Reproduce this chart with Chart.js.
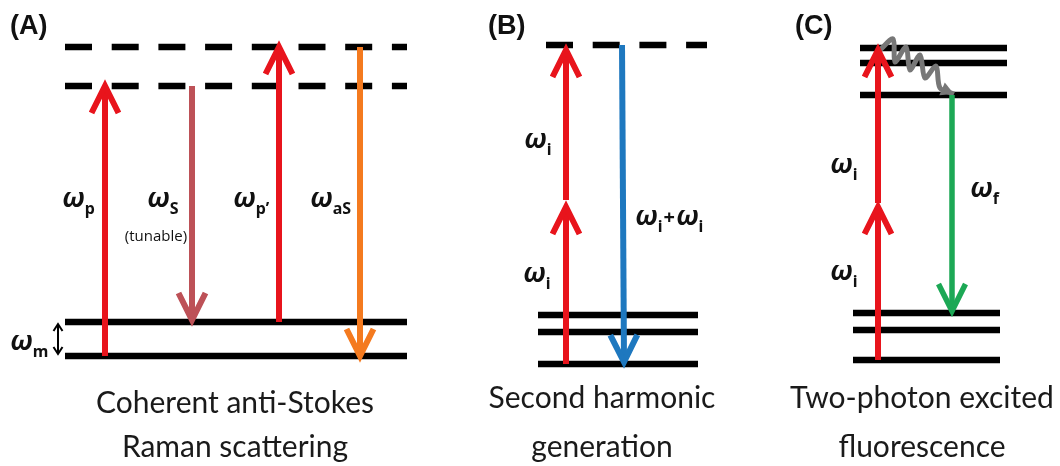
<!DOCTYPE html>
<html>
<head>
<meta charset="utf-8">
<script src="https://cdn.jsdelivr.net/npm/chart.js@4/dist/chart.umd.min.js"></script>
<style>
  html, body { margin: 0; padding: 0; background: #fff; }
  #wrap { width: 1060px; height: 466px; }
</style>
</head>
<body>
<div id="wrap"><canvas id="c" width="1060" height="466"></canvas></div>
<script>
// ---- Energy levels (height above the floor of the figure) ----
const casLevels    = [110, 144];        // CARS: ground + vibrational level (ω_m apart)
const casVirtual   = [380, 419];        // CARS: virtual states
const shgLevels    = [102, 134, 151];   // SHG: ground manifold
const shgVirtual   = [421];             // SHG: virtual state
const tpefGround   = [106, 136, 153];   // TPEF: ground manifold
const tpefExcited  = [371, 403, 418];   // TPEF: excited manifold

// ---- Transitions, [from, to] ----
const casPump       = [110, 380];
const casStokes     = [380, 146];
const casProbe      = [144, 419];
const casAntiStokes = [419, 110];
const casVib        = [112, 142];
const shgStep1      = [102, 259];
const shgStep2      = [266, 416];
const shgSignal     = [421, 104];
const tpefStep1     = [106, 259];
const tpefStep2     = [263, 416];
const tpefEmission  = [371, 155];

// non-radiative relaxation inside the excited manifold
const relaxX = [880, 893, 895, 906, 910, 920, 925, 936, 940, 954];
const relaxE = [416, 427, 404, 419, 396, 411, 388, 400, 378, 372];

// ---- Text ----
const panelTags = ['(A)', '(B)', '(C)'];
const titles = [
  ['Coherent anti-Stokes', 'Raman scattering'],
  ['Second harmonic', 'generation'],
  ['Two-photon excited', 'fluorescence']
];

// ---- Horizontal layout (columns of each panel) ----
const cols = {
  casSpan: [65, 407], shgSpan: [538, 698], shgDash: [546, 707],
  tpefUp: [860, 1007], tpefLow: [853, 1000],
  pump: 105, stokes: 192, probe: 279, antiStokes: 360, vib: 58,
  shgIn: 566, shgOut: [622, 624], tpefIn: 878, tpefOut: 952
};

const RED = '#E8141C', BROWN = '#BD5157', ORANGE = '#F47A1F',
      BLUE = '#1E78BF', GREEN = '#1CA855', GRAY = '#777777';

function level(span, e, dashed) {
  return {
    data: [{ x: span[0], y: e }, { x: span[1], y: e }],
    borderColor: '#000', borderWidth: 6.5,
    borderDash: dashed ? [27, 19.7] : [],
    pointRadius: 0, showLine: true, order: 5
  };
}
function arrow(x, fromTo, color, opts = {}) {
  const x0 = Array.isArray(x) ? x[0] : x, x1 = Array.isArray(x) ? x[1] : x;
  return Object.assign({
    data: [{ x: x0, y: fromTo[0] }, { x: x1, y: fromTo[1] }],
    borderColor: color, borderWidth: 6, pointRadius: 0, showLine: true,
    order: 1, arrow: 'end', headLength: 27, headWidth: 13.5
  }, opts);
}

const datasets = [];
casLevels.forEach(e => datasets.push(level(cols.casSpan, e, false)));
casVirtual.forEach(e => datasets.push(level(cols.casSpan, e, true)));
shgLevels.forEach(e => datasets.push(level(cols.shgSpan, e, false)));
shgVirtual.forEach(e => datasets.push(level(cols.shgDash, e, true)));
tpefGround.forEach(e => datasets.push(level(cols.tpefLow, e, false)));
tpefExcited.forEach(e => datasets.push(level(cols.tpefUp, e, false)));

datasets.push(arrow(cols.pump, casPump, RED));
datasets.push(arrow(cols.stokes, casStokes, BROWN));
datasets.push(arrow(cols.probe, casProbe, RED));
datasets.push(arrow(cols.antiStokes, casAntiStokes, ORANGE));
datasets.push(arrow(cols.vib, casVib, '#000', { borderWidth: 2, arrow: 'both', headLength: 7, headWidth: 4.5 }));
datasets.push(arrow(cols.shgIn, shgStep1, RED));
datasets.push(arrow(cols.shgIn, shgStep2, RED));
datasets.push(arrow(cols.shgOut, shgSignal, BLUE));
datasets.push(arrow(cols.tpefIn, tpefStep1, RED));
datasets.push(arrow(cols.tpefIn, tpefStep2, RED));
datasets.push(arrow(cols.tpefOut, tpefEmission, GREEN, { borderWidth: 5.5 }));
datasets.push({
  data: relaxX.map((x, i) => ({ x, y: relaxE[i] })),
  borderColor: GRAY, borderWidth: 5, pointRadius: 0, showLine: true,
  tension: 0.3, order: 2, arrow: 'fill', headLength: 13, headWidth: 7,
  borderJoinStyle: 'round'
});

// Arrow heads drawn at the final point of each flagged transition
const arrowHeads = {
  id: 'arrowHeads',
  afterDatasetsDraw(chart) {
    const ctx = chart.ctx;
    chart.data.datasets.forEach((ds, i) => {
      if (!ds.arrow) return;
      const pts = chart.getDatasetMeta(i).data;
      const n = pts.length;
      const heads = [[pts[n - 1], pts[n - 2]]];
      if (ds.arrow === 'both') heads.push([pts[0], pts[1]]);
      heads.forEach(([tip, prev]) => {
        const a = Math.atan2(tip.y - prev.y, tip.x - prev.x);
        const dx = Math.cos(a), dy = Math.sin(a);
        const L = ds.headLength, W = ds.headWidth;
        ctx.save();
        ctx.beginPath();
        ctx.moveTo(tip.x - L * dx - W * dy, tip.y - L * dy + W * dx);
        ctx.lineTo(tip.x, tip.y);
        ctx.lineTo(tip.x - L * dx + W * dy, tip.y - L * dy - W * dx);
        if (ds.arrow === 'fill') {
          ctx.closePath();
          ctx.fillStyle = ds.borderColor;
          ctx.fill();
        } else {
          ctx.strokeStyle = ds.borderColor;
          ctx.lineWidth = ds.borderWidth;
          ctx.lineJoin = 'miter';
          ctx.lineCap = 'butt';
          ctx.stroke();
        }
        ctx.restore();
      });
    });
  }
};

// Labels: panel tags, frequency symbols and captions
const OMEGA = "bold italic 27px 'Noto Sans'";
const SUB = "bold 16px 'Noto Sans'";
const CAPTION = "30px Lato";

function runs(ctx, x, y, parts) {
  let cx = x;
  parts.forEach(p => {
    ctx.font = p.f;
    ctx.fillText(p.t, cx, y + (p.dy || 0));
    cx += ctx.measureText(p.t).width + (p.gap || 0);
  });
}
function omega(ctx, x, y, sub) {
  runs(ctx, x, y, [{ t: 'ω', f: OMEGA, gap: 0 }, { t: sub, f: SUB, dy: 7 }]);
}

const labels = {
  id: 'labels',
  afterDraw(chart) {
    const ctx = chart.ctx;
    const xs = chart.scales.x, ys = chart.scales.y;
    const px = v => xs.getPixelForValue(v), py = v => ys.getPixelForValue(v);
    ctx.save();
    ctx.fillStyle = '#111';
    ctx.textBaseline = 'alphabetic';
    ctx.textAlign = 'left';

    ctx.font = "bold 27px 'Liberation Sans'";
    [10, 488, 795].forEach((x, i) => ctx.fillText(panelTags[i], x, 34));

    omega(ctx, px(cols.pump) - 43, py(259), 'p');
    omega(ctx, px(cols.stokes) - 45, py(259), 'S');
    omega(ctx, px(cols.probe) - 46, py(259), 'p’');
    omega(ctx, px(cols.antiStokes) - 50, py(259), 'aS');
    omega(ctx, px(cols.vib) - 48, py(116), 'm');

    ctx.font = "15px 'Open Sans'";
    ctx.textAlign = 'center';
    ctx.fillText('(tunable)', px(cols.stokes) - 36, 241);
    ctx.textAlign = 'left';

    omega(ctx, px(cols.shgIn) - 42, py(318), 'i');
    omega(ctx, px(cols.shgIn) - 43, py(184), 'i');
    runs(ctx, px(cols.shgOut[0]) + 13, py(241), [
      { t: 'ω', f: OMEGA }, { t: 'i', f: SUB, dy: 7, gap: 1 },
      { t: '+', f: "bold 20px 'Noto Sans'", dy: -1, gap: 1 },
      { t: 'ω', f: OMEGA }, { t: 'i', f: SUB, dy: 7 }
    ]);

    omega(ctx, px(cols.tpefIn) - 48, py(293), 'i');
    omega(ctx, px(cols.tpefIn) - 48, py(186), 'i');
    omega(ctx, px(cols.tpefOut) + 18, py(269), 'f');

    ctx.font = CAPTION;
    ctx.fillStyle = '#1a1a1a';
    ctx.textAlign = 'center';
    const capX = [235, 602, 922];
    const capY = [[413, 457], [408, 457], [408, 457]];
    titles.forEach((lines, i) => lines.forEach((t, j) => ctx.fillText(t, capX[i], capY[i][j])));
    ctx.restore();
  }
};

new Chart(document.getElementById('c'), {
  type: 'scatter',
  data: { datasets },
  options: {
    responsive: false,
    animation: false,
    layout: { padding: 0 },
    plugins: { legend: { display: false }, tooltip: { enabled: false } },
    scales: {
      x: { type: 'linear', min: 0, max: 1060, display: false },
      y: { type: 'linear', min: 0, max: 466, display: false }
    }
  },
  plugins: [arrowHeads, labels]
});
</script>
</body>
</html>
